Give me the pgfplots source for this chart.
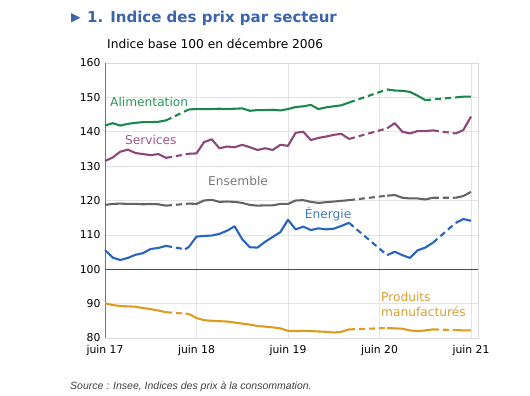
\documentclass[border=0pt]{standalone}
\usepackage{pgfplots}
\pgfplotsset{compat=1.18}
\usepackage{fontspec}
\setmainfont{DejaVu Sans}
\newfontfamily\srcfont{Liberation Sans}
\definecolor{cAli}{RGB}{27,135,78}
\definecolor{cSer}{RGB}{140,70,120}
\definecolor{cEns}{RGB}{100,100,100}
\definecolor{cEne}{RGB}{40,100,190}
\definecolor{cPro}{RGB}{222,155,30}
\definecolor{lAli}{RGB}{40,150,90}
\definecolor{lSer}{RGB}{155,90,140}
\definecolor{lEns}{RGB}{120,120,120}
\definecolor{lEne}{RGB}{70,120,190}
\definecolor{lPro}{RGB}{215,160,50}
\definecolor{cTitle}{RGB}{58,100,172}
\begin{document}
\begin{tikzpicture}
\useasboundingbox (0,0) rectangle (530bp,396bp);
\node[anchor=west, inner sep=0pt, text=cTitle, font=\fontsize{12.5bp}{13bp}\selectfont] at (71bp,378bp) {▶};
\node[anchor=west, inner sep=0pt, text=cTitle, font=\fontsize{15bp}{17bp}\selectfont\bfseries] at (87bp,378bp) {1. Indice des prix par secteur};
\node[anchor=west, inner sep=0pt, font=\fontsize{12.2bp}{14bp}\selectfont] at (107bp,352bp) {Indice base 100 en décembre 2006};
\node[anchor=west, inner sep=0pt, text=black!75, font=\srcfont\itshape\fontsize{10.5bp}{12bp}\selectfont] at (70bp,9bp) {Source : Insee, Indices des prix à la consommation.};
\begin{axis}[
  at={(105bp,58bp)}, anchor=south west,
  scale only axis, width=373bp, height=275bp,
  xmin=0, xmax=48.92, ymin=80, ymax=160,
  xtick={0,12,24,36,48},
  xticklabels={juin 17,juin 18,juin 19,juin 20,juin 21},
  ytick={80,90,...,160},
  major tick length=0pt,
  grid=major, grid style={gray!22, line width=0.6pt},
  axis line style={gray!30, line width=0.6pt},
  tick label style={font=\fontsize{10.8bp}{12bp}\selectfont},
  /pgf/number format/assume math mode=true,
  xticklabel style={yshift=-4bp},
  yticklabel style={xshift=-1bp},
  unbounded coords=jump,
  every axis plot/.append style={line width=2.1pt, line join=round, no markers},
  clip=false,
]
\draw[black!70, line width=0.8pt] (axis cs:0,100) -- (axis cs:48.92,100);
\draw[black!55, line width=0.8pt] (axis cs:0,80) -- (axis cs:0,160);
% Alimentation
\addplot[cAli] coordinates {(0,141.8)(1,142.5)(2,141.8)(3,142.3)(4,142.6)(5,142.8)(6,142.8)(7,142.9)(8,143.3)(9,nan)
(11,146.5)(12,146.6)(13,146.6)(14,146.6)(15,146.7)(16,146.6)(17,146.7)(18,146.8)(19,146.1)(20,146.3)(21,146.3)(22,146.4)(23,146.2)(24,146.6)(25,147.2)(26,147.4)(27,147.8)(28,146.6)(29,147.1)(30,147.4)(31,147.7)(32,148.5)(33,nan)
(37,152.3)(38,152.0)(39,151.9)(40,151.6)(41,150.5)(42,149.2)(43,nan)
(46,150.0)(47,150.2)(48,150.2)};
\addplot[cAli, dash pattern=on 6bp off 4bp] coordinates {(8,143.3)(11,146.5)(12,nan)(32,148.5)(37,152.3)(38,nan)(42,149.2)(46,150.0)};
% Services
\addplot[cSer] coordinates {(0,131.5)(1,132.5)(2,134.2)(3,134.8)(4,133.8)(5,133.5)(6,133.2)(7,133.5)(8,132.4)(9,nan)
(11,133.6)(12,133.7)(13,137.0)(14,137.8)(15,135.2)(16,135.7)(17,135.5)(18,136.2)(19,135.5)(20,134.7)(21,135.2)(22,134.7)(23,136.2)(24,135.9)(25,139.7)(26,140.0)(27,137.6)(28,138.2)(29,138.6)(30,139.1)(31,139.4)(32,137.9)(33,nan)
(37,141.0)(38,142.5)(39,140.0)(40,139.5)(41,140.2)(42,140.2)(43,140.4)(44,nan)
(46,139.5)(47,140.5)(48,144.4)};
\addplot[cSer, dash pattern=on 6bp off 4bp] coordinates {(8,132.4)(11,133.6)(12,nan)(32,137.9)(37,141.0)(38,nan)(43,140.4)(46,139.5)};
% Ensemble
\addplot[cEns] coordinates {(0,118.7)(1,119.0)(2,119.1)(3,119.0)(4,119.0)(5,118.9)(6,119.0)(7,118.9)(8,118.5)(9,nan)
(11,119.1)(12,119.0)(13,120.0)(14,120.2)(15,119.6)(16,119.7)(17,119.6)(18,119.3)(19,118.7)(20,118.5)(21,118.6)(22,118.6)(23,119.0)(24,119.0)(25,120.0)(26,120.1)(27,119.6)(28,119.3)(29,119.5)(30,119.7)(31,119.9)(32,120.1)(33,nan)
(37,121.4)(38,121.6)(39,120.8)(40,120.6)(41,120.6)(42,120.3)(43,120.8)(44,nan)
(46,120.8)(47,121.3)(48,122.5)};
\addplot[cEns, dash pattern=on 6bp off 4bp] coordinates {(8,118.5)(11,119.1)(12,nan)(32,120.1)(37,121.4)(38,nan)(43,120.8)(46,120.8)};
% Energie
\addplot[cEne] coordinates {(0,105.6)(1,103.4)(2,102.7)(3,103.3)(4,104.2)(5,104.7)(6,105.9)(7,106.2)(8,106.8)(9,nan)
(10.5,105.8)(11,106.5)(12,109.5)(13,109.7)(14,109.8)(15,110.3)(16,111.2)(17,112.5)(18,108.7)(19,106.4)(20,106.3)(21,108.0)(22,109.4)(23,110.8)(24,114.4)(25,111.6)(26,112.4)(27,111.4)(28,111.9)(29,111.6)(30,111.8)(31,112.6)(32,113.5)(33,nan)
(37,104.1)(38,105.1)(39,104.1)(40,103.3)(41,105.5)(42,106.3)(43,107.7)(44,nan)
(46,113.5)(47,114.6)(48,114.1)};
\addplot[cEne, dash pattern=on 6bp off 4bp] coordinates {(8,106.8)(10.5,105.8)(11,nan)(32,113.5)(37,104.1)(38,nan)(43,107.7)(46,113.5)};
% Produits manufactures
\addplot[cPro] coordinates {(0,90.1)(1,89.6)(2,89.3)(3,89.2)(4,89.1)(5,88.7)(6,88.4)(7,88.0)(8,87.5)(9,nan)
(11,87.0)(12,85.8)(13,85.2)(14,85.0)(15,84.9)(16,84.8)(17,84.5)(18,84.2)(19,83.9)(20,83.5)(21,83.3)(22,83.1)(23,82.8)(24,82.1)(25,82.0)(26,82.1)(27,82.0)(28,81.9)(29,81.8)(30,81.6)(31,81.8)(32,82.5)(33,nan)
(37,82.9)(38,82.8)(39,82.7)(40,82.2)(41,82.0)(42,82.2)(43,82.5)(44,nan)
(46,82.3)(47,82.2)(48,82.2)};
\addplot[cPro, dash pattern=on 6bp off 4bp] coordinates {(8,87.5)(11,87.0)(12,nan)(32,82.5)(37,82.9)(38,nan)(43,82.5)(46,82.3)};
% labels
\node[anchor=west, inner sep=0pt, text=lAli, font=\fontsize{12.2bp}{14bp}\selectfont] at (axis cs:0.66,148.7) {Alimentation};
\node[anchor=west, inner sep=0pt, text=lSer, font=\fontsize{12.2bp}{14bp}\selectfont] at (axis cs:2.6,137.6) {Services};
\node[anchor=west, inner sep=0pt, text=lEns, font=\fontsize{12.2bp}{14bp}\selectfont] at (axis cs:13.5,125.7) {Ensemble};
\node[anchor=west, inner sep=0pt, text=lEne, font=\fontsize{12.2bp}{14bp}\selectfont] at (axis cs:26.2,116.1) {Énergie};
\node[anchor=west, inner sep=0pt, text=lPro, font=\fontsize{12.2bp}{14bp}\selectfont] at (axis cs:36.2,91.9) {Produits};
\node[anchor=west, inner sep=0pt, text=lPro, font=\fontsize{12.2bp}{14bp}\selectfont] at (axis cs:36.2,87.6) {manufacturés};
\end{axis}
\end{tikzpicture}
\end{document}
